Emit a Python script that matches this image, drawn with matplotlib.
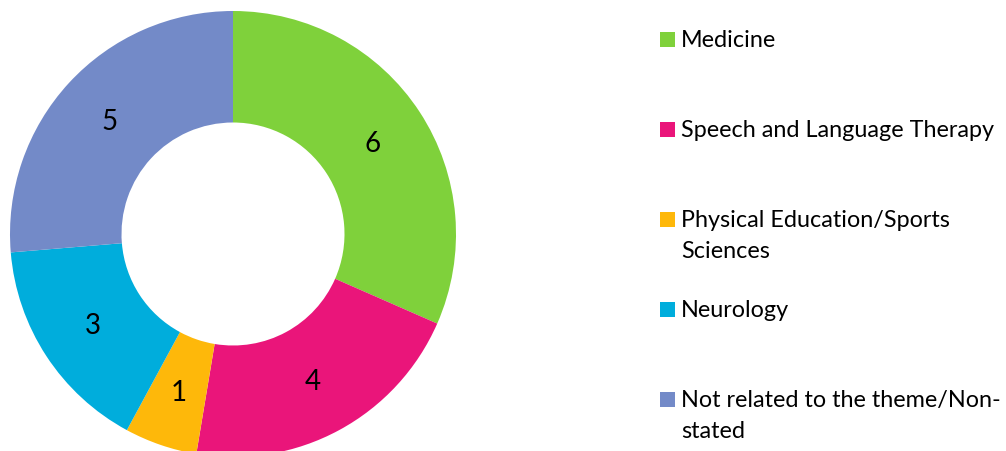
import matplotlib.pyplot as plt
from matplotlib.patches import Rectangle

plt.rcParams['font.family'] = ['Lato', 'DejaVu Sans']

# data
categories = ['Medicine', 'Speech and Language Therapy',
              'Physical Education/Sports\nSciences', 'Neurology',
              'Not related to the theme/Non-\nstated']
values = [6, 4, 1, 3, 5]
colors = ['#7FD13B', '#EA157A', '#FEB80A', '#00ADDC', '#738AC8']

W, H = 1006, 452
fig = plt.figure(figsize=(W / 100, H / 100), dpi=100)

# donut axes placed in pixels: center (233, 235), outer radius 223
ax = fig.add_axes([10 / W, (H - 235 - 223) / H, 446 / W, 446 / H])
wedges, texts = ax.pie(values, colors=colors, startangle=90, counterclock=False,
                       radius=1.0, labels=[str(v) for v in values], labeldistance=0.75,
                       wedgeprops=dict(width=0.5, linewidth=0),
                       textprops=dict(fontsize=20, color='black'))
for t in texts:
    t.set_ha('center')
    t.set_va('center')
ax.set_xlim(-1, 1)
ax.set_ylim(-1, 1)
ax.set_aspect('equal')
ax.set_axis_off()

# legend drawn by hand so entries keep an even 90 px step
for i, (lab, col) in enumerate(zip(categories, colors)):
    y = 40 + 90 * i
    fig.patches.append(Rectangle((660 / W, 1 - (y + 7.5) / H), 15 / W, 15 / H,
                                 transform=fig.transFigure, facecolor=col,
                                 edgecolor='none'))
    for k, line in enumerate(lab.split('\n')):
        fig.text(681 / W, 1 - (y + 7 + 31 * k) / H, line, fontsize=16.8,
                 va='baseline', ha='left', color='black')

plt.savefig('out.png', dpi=100)
